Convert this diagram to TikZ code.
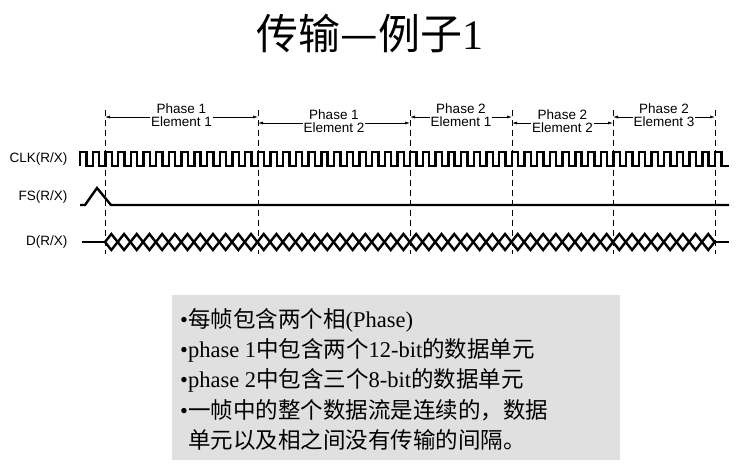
\documentclass[tikz,border=0pt]{standalone}
\usepackage{fontspec}
\setmainfont{Liberation Serif}
\newfontfamily\cjk{Noto Sans CJK SC}
\newfontfamily\arial{Liberation Sans}
\usetikzlibrary{arrows.meta,calc}
\begin{document}
\begin{tikzpicture}[x=1pt,y=-1pt,
  sig/.style={line width=2.4pt,line join=miter},
  divline/.style={line width=0.6pt,dash pattern=on 6pt off 4pt},
  dim/.style={line width=0.6pt,{Latex[length=5pt,width=3pt]}-{Latex[length=5pt,width=3pt]}},
  elabel/.style={font=\arial\fontsize{13.5}{13.5}\selectfont,fill=white,inner sep=1pt,align=center},
  siglabel/.style={font=\arial\fontsize{13.5}{14}\selectfont,anchor=east}]
\useasboundingbox (0,0) rectangle (739,464);
\node (title) at (370,33) {\cjk\fontsize{42}{44}\selectfont 传输—例子{\rmfamily 1}};
% dividers
\foreach \n/\x in {d0/105,d1/258,d2/410,d3/512,d4/613,d5/715}{
  \coordinate (\n t) at (\x,110); \coordinate (\n b) at (\x,254);
  \draw[divline] (\n t) -- (\n b);}
% element brackets
\foreach \a/\b/\y/\p/\e/\n in {d0/d1/117/1/1/e1, d1/d2/123/1/2/e2, d2/d3/117/2/1/e3, d3/d4/123/2/2/e4, d4/d5/117/2/3/e5}{
  \coordinate (\n a) at (\a t |- 0,\y); \coordinate (\n b) at (\b t |- 0,\y);
  \draw[dim] (\n a) -- (\n b);
  \node[elabel] (\n) at ($(\n a)!0.5!(\n b)+(0,-2)$) {Phase \p\\Element \e};}
% labels
\node[siglabel] (clk) at (71,159) {CLK(R/X)};
\node[siglabel] (fs) at (71,197) {FS(R/X)};
\node[siglabel] (dd) at (71,242) {D(R/X)};
% clock
\draw[sig] (80,166) \foreach \k in {0,...,50}{ -- ({80+\k*12.7},152) -- ({86.35+\k*12.7},152) -- ({86.35+\k*12.7},166) -- ({92.7+\k*12.7},166)} -- (729,166);
% FS
\draw[sig] (80,205) -- (85,205) -- (97,188) -- (111,205) -- (729,205);
% Data
\draw[sig] (82,242) -- (105,242);
\foreach \i in {0,...,47}{
  \draw[sig] ({105+\i*12.7},242) -- ({111.35+\i*12.7},234) -- ({117.7+\i*12.7},242) -- ({111.35+\i*12.7},250) -- cycle;}
\draw[sig] (715,242) -- (729,242);
% text box
\node[fill={rgb,255:red,224;green,224;blue,224},minimum width=448pt,minimum height=165pt,anchor=north west] (box) at (172,295) {};
\begin{scope}[every node/.style={anchor=west,font=\fontsize{22.5}{24}\selectfont,inner sep=0pt}]
\node (l1) at (180,320) {•{\cjk 每帧包含两个相}(Phase)};
\node (l2) at (180,350) {•phase 1{\cjk 中包含两个}12-bit{\cjk 的数据单元}};
\node (l3) at (180,380) {•phase 2{\cjk 中包含三个}8-bit{\cjk 的数据单元}};
\node (l4) at (180,410) {•{\cjk 一帧中的整个数据流是连续的，数据}};
\node (l5) at (188,440) {{\cjk 单元以及相之间没有传输的间隔。}};
\end{scope}
\end{tikzpicture}
\end{document}
